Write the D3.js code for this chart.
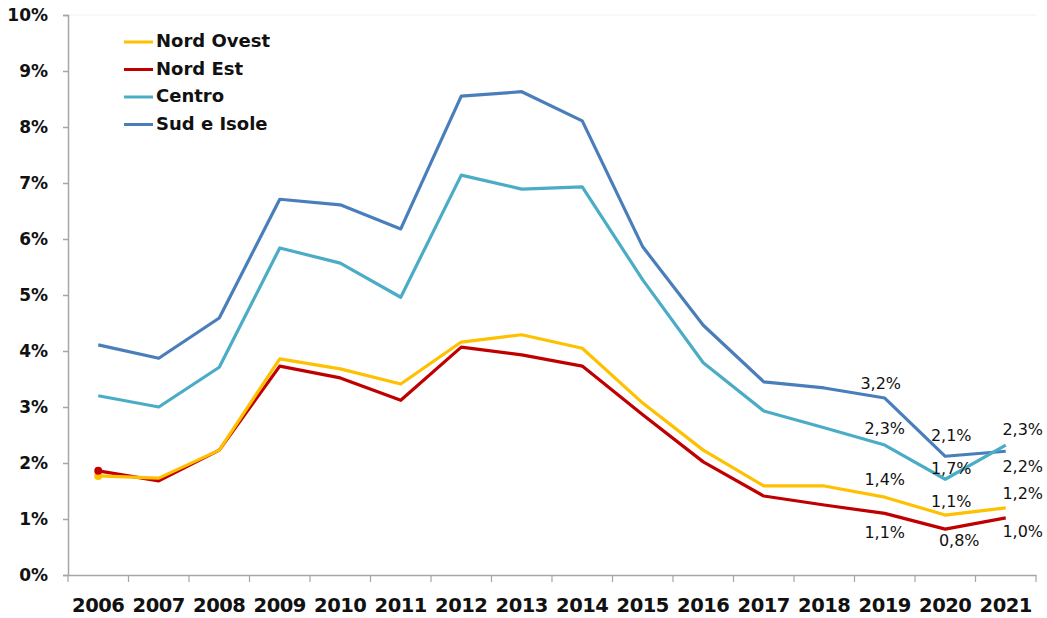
<!DOCTYPE html>
<html>
<head>
<meta charset="utf-8">
<script src="https://cdn.jsdelivr.net/npm/d3@7"></script>
<style>
  body { margin: 0; background: #fff; }
  svg { display: block; }
  .tick text { font-family: "DejaVu Sans", sans-serif; font-weight: 700; fill: #111; }
</style>
</head>
<body>
<svg id="chart" width="1047" height="618"></svg>
<script>
// Annual values (%) by macro-area, 2006–2021
const years = ["2006","2007","2008","2009","2010","2011","2012","2013","2014","2015","2016","2017","2018","2019","2020","2021"];
const nordOvest = [1.77, 1.73, 2.23, 3.86, 3.68, 3.41, 4.16, 4.29, 4.05, 3.07, 2.23, 1.59, 1.59, 1.39, 1.07, 1.20];
const nordEst   = [1.86, 1.68, 2.23, 3.73, 3.52, 3.12, 4.07, 3.93, 3.73, 2.86, 2.02, 1.41, 1.25, 1.10, 0.82, 1.02];
const centro    = [3.20, 3.00, 3.71, 5.84, 5.57, 4.96, 7.14, 6.89, 6.93, 5.27, 3.79, 2.93, 2.63, 2.32, 1.71, 2.32];
const sudIsole  = [4.11, 3.87, 4.59, 6.71, 6.61, 6.18, 8.55, 8.63, 8.11, 5.86, 4.46, 3.45, 3.34, 3.16, 2.12, 2.21];
const yTicks = [0, 1, 2, 3, 4, 5, 6, 7, 8, 9, 10];
const labelYears = ["2019", "2020", "2021"];

const series = [
  { name: "Nord Ovest",  values: nordOvest, color: "#ffc000", marker: true },
  { name: "Nord Est",    values: nordEst,   color: "#c00000", marker: true },
  { name: "Centro",      values: centro,    color: "#4bacc6", marker: false },
  { name: "Sud e Isole", values: sudIsole,  color: "#4a7ebb", marker: false }
];

// Label placement per series (dx, dy relative to point), per labelled year
const labelOffsets = {
  "Nord Ovest":  { "2019": [0, -17], "2020": [6, -13], "2021": [17, -13] },
  "Nord Est":    { "2019": [0, 20],  "2020": [14, 12], "2021": [17, 15] },
  "Centro":      { "2019": [0, -16], "2020": [6, -10], "2021": [17, -15] },
  "Sud e Isole": { "2019": [-4, -14], "2020": [6, -20], "2021": [17, 16] }
};

const svg = d3.select("#chart");
const margin = { left: 68, right: 11, top: 15, bottom: 43 };
const W = 1047, H = 618;

const x = d3.scaleBand().domain(years).range([margin.left, W - margin.right]);
const y = d3.scaleLinear().domain([0, 10]).range([H - margin.bottom, margin.top]);
const cx = yr => x(yr) + x.bandwidth() / 2;

// faint plot-area top edge
svg.append("line")
  .attr("x1", margin.left).attr("x2", W - margin.right)
  .attr("y1", y(10)).attr("y2", y(10))
  .attr("stroke", "#f2f2f2").attr("stroke-width", 1);

// Y axis
const yAxis = svg.append("g")
  .attr("transform", `translate(${margin.left},0)`)
  .call(d3.axisLeft(y).tickValues(yTicks).tickSize(5).tickPadding(15)
    .tickFormat(d => d + "%"));
yAxis.selectAll("text").style("font-size", "17px");
yAxis.selectAll("line, path").attr("stroke", "#a6a6a6").attr("stroke-width", 1.5);

// X axis
const xAxis = svg.append("g")
  .attr("transform", `translate(0,${y(0)})`)
  .call(d3.axisBottom(x).tickSizeOuter(0).tickSize(0));
xAxis.selectAll("text")
  .attr("y", 37).attr("dy", 0)
  .style("font-size", "19.5px").style("letter-spacing", "-0.5px");
xAxis.selectAll("path").attr("stroke", "#a6a6a6").attr("stroke-width", 1.5);
// tick marks at band boundaries
const bounds = years.map(d => x(d)).concat([x(years[years.length - 1]) + x.bandwidth()]);
xAxis.selectAll(".sep").data(bounds).enter().append("line")
  .attr("class", "sep")
  .attr("x1", d => d).attr("x2", d => d)
  .attr("y1", 0).attr("y2", 7)
  .attr("stroke", "#a6a6a6").attr("stroke-width", 1.2);

// Lines
const line = d3.line().x((d, i) => cx(years[i])).y(d => y(d));
series.slice().reverse().forEach(s => {
  svg.append("path")
    .datum(s.values)
    .attr("fill", "none")
    .attr("stroke", s.color)
    .attr("stroke-width", 3.2)
    .attr("stroke-linejoin", "round")
    .attr("d", line);
});
// first-point markers
series.filter(s => s.marker).forEach(s => {
  svg.append("circle")
    .attr("cx", cx(years[0])).attr("cy", y(s.values[0]))
    .attr("r", 4).attr("fill", s.color);
});

// Value labels for the latest years
const fmt = v => v.toFixed(1).replace(".", ",") + "%";
series.forEach(s => {
  labelYears.forEach(yr => {
    const i = years.indexOf(yr);
    const off = labelOffsets[s.name][yr];
    svg.append("text")
      .attr("x", cx(yr) + off[0])
      .attr("y", y(s.values[i]) + off[1])
      .attr("text-anchor", "middle")
      .attr("dominant-baseline", "middle")
      .style("font-family", "'DejaVu Sans', sans-serif")
      .style("font-size", "16px")
      .style("fill", "#111")
      .text(fmt(s.values[i]));
  });
});

// Legend
const legend = svg.append("g");
series.forEach((s, i) => {
  const ly = 42 + i * 27.5;
  legend.append("line")
    .attr("x1", 124).attr("x2", 153).attr("y1", ly).attr("y2", ly)
    .attr("stroke", s.color).attr("stroke-width", 3);
  legend.append("text")
    .attr("x", 156).attr("y", ly)
    .attr("dominant-baseline", "middle")
    .style("font-family", "'DejaVu Sans', sans-serif")
    .style("font-weight", 700)
    .style("font-size", "18px")
    .style("fill", "#111")
    .text(s.name);
});
</script>
</body>
</html>
